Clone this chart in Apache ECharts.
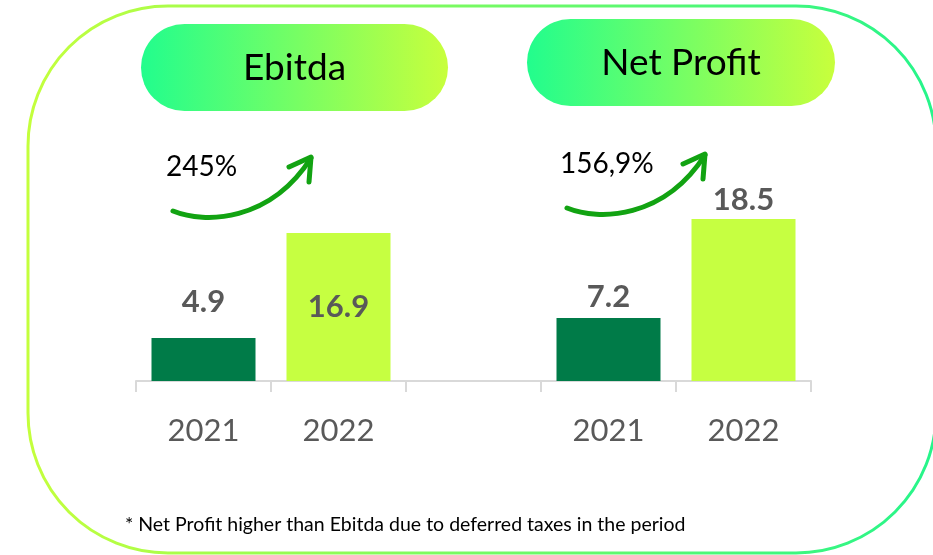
<!DOCTYPE html>
<html>
<head>
<meta charset="utf-8">
<script src="https://cdn.jsdelivr.net/npm/echarts@6/dist/echarts.min.js"></script>
<style>
  html, body { margin: 0; padding: 0; background: #ffffff; }
  #chart { width: 933px; height: 555px; }
</style>
</head>
<body>
<div id="chart"></div>
<script>
// Two KPI groups, each compared across two years
const groups = ['Ebitda', 'Net Profit'];
const years = ['2021', '2022'];
const ebitdaValues = [4.9, 16.9];
const netProfitValues = [7.2, 18.5];
const growthLabels = ['245%', '156,9%'];
const footnote = '* Net Profit higher than Ebitda due to deferred taxes in the period';

const FONT = 'Lato, "Open Sans", sans-serif';
const DARK = '#007B48';
const LIME = '#C6FF41';
const yearColors = [DARK, LIME];

// Category axis: group A years, an empty spacer slot, group B years
const groupValues = [ebitdaValues, netProfitValues];
const categories = [];
const values = [];
groupValues.forEach((vals, g) => {
  if (g > 0) { categories.push('gap'); values.push({ value: '-' }); }
  vals.forEach((v, i) => {
    categories.push(groups[g] + '|' + years[i]);
    values.push({ value: v, itemStyle: { color: yearColors[i] } });
  });
});

// Value label placement for each bar (slot index -> label style)
const labelStyle = {
  0: { position: 'top', distance: 21 },
  1: { position: 'inside' },
  3: { position: 'top', distance: 5 },
  4: { position: 'top', distance: 3 }
};
values.forEach((d, i) => { if (labelStyle[i]) d.label = labelStyle[i]; });

const gradPill = new echarts.graphic.LinearGradient(0, 0, 1, 0, [
  { offset: 0, color: '#22FD8D' },
  { offset: 1, color: '#C8FF3C' }
]);
const gradBorder = new echarts.graphic.LinearGradient(0, 0, 1, 0, [
  { offset: 0, color: '#C4FF3C' },
  { offset: 1, color: '#25F58B' }
]);

// Header pill + growth arrow for one group, shifted by (dx, dy)
function groupDecor(name, growth, pill, dx, dy) {
  const arrowColor = '#12A312';
  return [
    {
      type: 'rect',
      shape: { x: pill.x, y: pill.y, width: pill.w, height: pill.h, r: pill.h / 2 },
      style: { fill: gradPill },
      z: 1
    },
    {
      type: 'text',
      style: {
        x: pill.x + pill.w / 2, y: pill.y + pill.h / 2 + 1,
        text: name, fill: '#000000', font: '37px ' + FONT,
        textAlign: 'center', textVerticalAlign: 'middle'
      },
      z: 2
    },
    {
      type: 'text',
      style: {
        x: 166 + dx, y: 167 + dy,
        text: growth, fill: '#000000', font: '28px ' + FONT,
        textAlign: 'left', textVerticalAlign: 'middle'
      },
      z: 2
    },
    {
      type: 'bezierCurve',
      shape: {
        x1: 173 + dx, y1: 211 + dy,
        cpx1: 205 + dx, cpy1: 224 + dy,
        cpx2: 270 + dx, cpy2: 222 + dy,
        x2: 311 + dx, y2: 158 + dy
      },
      style: { stroke: arrowColor, lineWidth: 5, fill: null, lineCap: 'round' },
      z: 2
    },
    {
      type: 'polyline',
      shape: { points: [[289 + dx, 167 + dy], [311 + dx, 157 + dy], [309 + dx, 182 + dy]] },
      style: { stroke: arrowColor, lineWidth: 5, fill: null, lineCap: 'round', lineJoin: 'round' },
      z: 2
    }
  ];
}

const chart = echarts.init(document.getElementById('chart'), null, { renderer: 'canvas' });

chart.setOption({
  backgroundColor: '#ffffff',
  animation: false,
  grid: { left: 136, right: 122, top: 205.8, bottom: 174 },
  xAxis: {
    type: 'category',
    data: categories,
    boundaryGap: true,
    axisLine: { lineStyle: { color: '#D9D9D9', width: 2 } },
    axisTick: { show: true, length: 11, lineStyle: { color: '#D9D9D9', width: 2 } },
    axisLabel: {
      interval: 0,
      margin: 34,
      fontSize: 31,
      fontFamily: FONT,
      color: '#595959',
      formatter: v => (v === 'gap' ? '' : v.split('|')[1])
    }
  },
  yAxis: {
    type: 'value', min: 0, max: 20, show: false,
    splitLine: { show: false }
  },
  series: [{
    type: 'bar',
    data: values,
    barWidth: 104,
    label: {
      show: true,
      fontSize: 31,
      fontWeight: 'bold',
      fontFamily: FONT,
      color: '#595959',
      formatter: p => p.value
    }
  }],
  graphic: [
    {
      type: 'rect',
      shape: { x: 28, y: 6, width: 908, height: 547, r: 140 },
      style: { fill: null, stroke: gradBorder, lineWidth: 3 },
      z: 0
    },
    ...groupDecor(groups[0], growthLabels[0], { x: 141, y: 24, w: 307, h: 87 }, 0, 0),
    ...groupDecor(groups[1], growthLabels[1], { x: 527, y: 19, w: 308, h: 87 }, 394, -3),
    {
      type: 'text',
      style: {
        x: 125, y: 525,
        text: footnote, fill: '#000000', font: '19.5px ' + FONT,
        textAlign: 'left', textVerticalAlign: 'middle'
      },
      z: 2
    }
  ]
});
</script>
</body>
</html>
